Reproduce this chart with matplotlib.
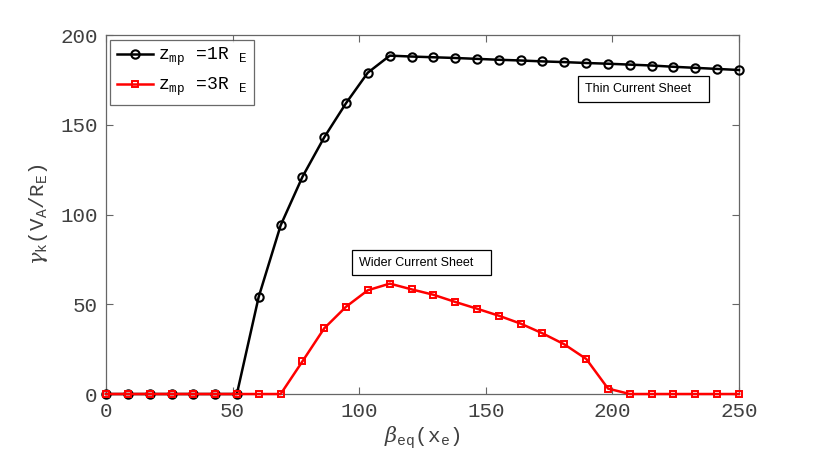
import numpy as np
import matplotlib
matplotlib.use("Agg")
import matplotlib.pyplot as plt

plt.rcParams['mathtext.fontset'] = 'custom'
plt.rcParams['mathtext.rm'] = 'Liberation Mono'
plt.rcParams['mathtext.it'] = 'DejaVu Serif:italic'
plt.rcParams['font.family'] = ['Liberation Mono', 'DejaVu Sans Mono']

# beta_eq grid (30 points from 0 to 250)
x_vals = [0, 8.6, 17.2, 25.9, 34.5, 43.1, 51.7, 60.3, 69.0, 77.6,
          86.2, 94.8, 103.4, 112.1, 120.7, 129.3, 137.9, 146.6, 155.2, 163.8,
          172.4, 181.0, 189.7, 198.3, 206.9, 215.5, 224.1, 232.8, 241.4, 250.0]

# growth rate, z_mp = 1 R_E
gamma_thin = [0, 0, 0, 0, 0, 0, 0, 54, 94, 121,
              143, 162, 179, 188.5, 188, 187.6, 187.2, 186.7, 186.2, 185.8,
              185.3, 184.9, 184.4, 184.0, 183.5, 183.0, 182.3, 181.7, 181.1, 180.5]

# growth rate, z_mp = 3 R_E
gamma_wide = [0, 0, 0, 0, 0, 0, 0, 0, 0, 18.2,
              36.6, 48.6, 57.8, 61.5, 58.3, 55.3, 51.3, 47.5, 43.6, 39.2,
              33.8, 27.7, 19.5, 3.0, 0, 0, 0, 0, 0, 0]

fig = plt.figure(figsize=(8.17, 4.63), dpi=100)
ax = fig.add_axes([0.1297, 0.149, 0.7748, 0.7754])

ax.plot(x_vals, gamma_thin, '-o', color='black', lw=1.8, ms=6,
        mfc='none', mew=1.5, clip_on=False, zorder=3,
        label=r'z$_{\rm mp}$ =1R $_{\rm E}$')
ax.plot(x_vals, gamma_wide, '-s', color='red', lw=1.8, ms=4.8,
        mfc='none', mew=1.4, clip_on=False, zorder=4,
        label=r'z$_{\rm mp}$ =3R $_{\rm E}$')

ax.set_xlim(0, 250)
ax.set_ylim(0, 200)
ax.set_xticks([0, 50, 100, 150, 200, 250])
ax.set_yticks([0, 50, 100, 150, 200])

for s in ax.spines.values():
    s.set_color('#666666')
    s.set_linewidth(0.9)
ax.tick_params(direction='in', top=True, right=True, length=5,
               color='#666666', labelcolor='#404040', labelsize=15, pad=6)

ax.set_xlabel(r'$\mathit{\beta}_{\rm eq}$(x$_{\rm e}$)', fontsize=15, color='#404040', labelpad=2)
ax.set_ylabel(r'$\mathit{\gamma}_{\rm k}$(V$_{\rm A}$/R$_{\rm E}$)', fontsize=15, color='#404040', labelpad=7)

leg = ax.legend(loc='upper left', fontsize=13, handlelength=2.0, borderpad=0.35,
                labelspacing=0.45, handletextpad=0.3, fancybox=False,
                bbox_to_anchor=(0.0, 1.0), borderaxespad=0.25)
leg.get_frame().set_edgecolor('#444444')
leg.get_frame().set_linewidth(0.9)

box = dict(boxstyle='square,pad=0.55', fc='white', ec='black', lw=0.9)
ax.text(0.757, 0.85, 'Thin Current Sheet   ', transform=ax.transAxes,
        fontsize=9, family='Liberation Sans', va='center', ha='left', bbox=box)
ax.text(0.400, 0.366, 'Wider Current Sheet   ', transform=ax.transAxes,
        fontsize=9, family='Liberation Sans', va='center', ha='left', bbox=box)

fig.savefig('out.png', dpi=100)
